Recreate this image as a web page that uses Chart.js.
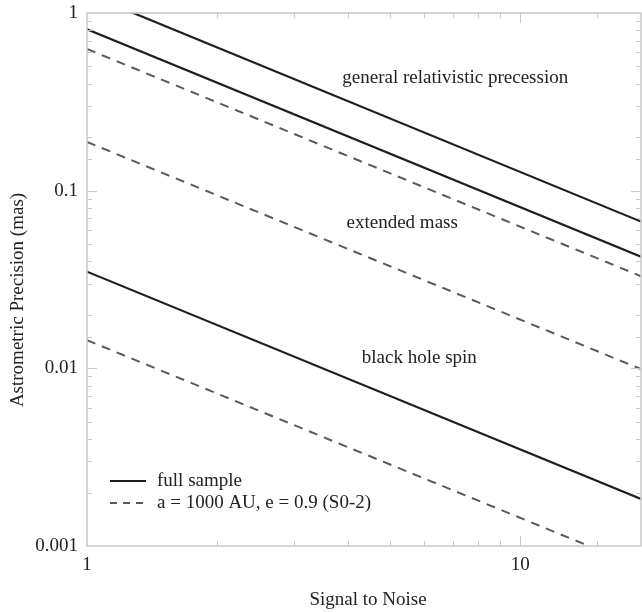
<!DOCTYPE html>
<html>
<head>
<meta charset="utf-8">
<script src="https://cdn.jsdelivr.net/npm/chart.js@4/dist/chart.umd.min.js"></script>
<style>
  html, body { margin:0; padding:0; background:#fff; }
  #wrap { width:642px; height:612px; }
</style>
</head>
<body>
<div id="wrap"><canvas id="c" width="642" height="612"></canvas></div>
<script>
// signal to noise at the two ends of each line (straight in log-log)
const snr = [1, 19];

const grFull   = [1.28, 0.067];
const emFull   = [0.81, 0.0425];
const grS02    = [0.627, 0.033];
const emS02    = [0.188, 0.0099];
const bhFull   = [0.035, 0.00184];
const bhS02    = [0.0144, 0.000758];

const noteTexts = ['general relativistic precession', 'extended mass', 'black hole spin'];
const noteX = [7.08, 5.34, 5.85];
const noteY = [0.43, 0.0658, 0.01145];

const legendTexts = ['full sample', 'a = 1000 AU, e = 0.9 (S0-2)'];

const SERIF = "'Liberation Serif', 'DejaVu Serif', serif";
const INK = '#222';
const FRAME = '#c8c8c8';

function pts(ys){ return snr.map((x,i) => ({x, y: ys[i]})); }

function lineSet(label, ys, dashed){
  return {
    label,
    data: pts(ys),
    borderColor: dashed ? '#5a5a5a' : '#1e1e1e',
    borderWidth: dashed ? 2 : 2.2,
    borderDash: dashed ? [9, 7] : [],
    pointRadius: 0,
    fill: false,
    tension: 0,
    clip: 0,
  };
}

function isDecade(v){
  const l = Math.log10(v);
  return Math.abs(l - Math.round(l)) < 1e-9;
}

const decor = {
  id: 'decor',
  afterDraw(chart){
    const {ctx, chartArea: a, scales} = chart;
    const xs = scales.x, ys = scales.y;
    ctx.save();
    // frame
    ctx.strokeStyle = FRAME;
    ctx.lineWidth = 1.5;
    ctx.strokeRect(a.left, a.top, a.right - a.left, a.bottom - a.top);
    // inward ticks on all four sides
    ctx.lineWidth = 1;
    ctx.beginPath();
    xs.ticks.forEach(t => {
      if (t.value <= xs.min || t.value >= xs.max) return;
      const px = Math.round(xs.getPixelForValue(t.value)) + 0.5;
      const len = isDecade(t.value) ? 10 : 5;
      ctx.moveTo(px, a.bottom); ctx.lineTo(px, a.bottom - len);
      ctx.moveTo(px, a.top); ctx.lineTo(px, a.top + len);
    });
    ys.ticks.forEach(t => {
      if (t.value <= ys.min || t.value >= ys.max) return;
      const py = Math.round(ys.getPixelForValue(t.value)) + 0.5;
      const len = isDecade(t.value) ? 10 : 5;
      ctx.moveTo(a.left, py); ctx.lineTo(a.left + len, py);
      ctx.moveTo(a.right, py); ctx.lineTo(a.right - len, py);
    });
    ctx.stroke();

    // notes on the lines
    ctx.fillStyle = INK;
    ctx.font = '19px ' + SERIF;
    ctx.textAlign = 'center';
    ctx.textBaseline = 'middle';
    noteTexts.forEach((t, i) => {
      ctx.fillText(t, xs.getPixelForValue(noteX[i]), ys.getPixelForValue(noteY[i]));
    });

    // legend
    const ds = chart.data.datasets;
    [ds[0], ds[1]].forEach((d, i) => {
      const y = 481 + i * 22;
      ctx.strokeStyle = d.borderColor;
      ctx.lineWidth = 2;
      ctx.setLineDash(i ? [7, 6] : []);
      ctx.beginPath();
      ctx.moveTo(110, y); ctx.lineTo(146, y);
      ctx.stroke();
      ctx.setLineDash([]);
      ctx.textAlign = 'left';
      ctx.fillText(legendTexts[i], 157, y);
    });

    // axis titles
    ctx.textAlign = 'center';
    ctx.fillText('Signal to Noise', 368, 600);
    ctx.translate(18, 300);
    ctx.rotate(-Math.PI / 2);
    ctx.fillText('Astrometric Precision (mas)', 0, 0);
    ctx.restore();
  }
};

new Chart(document.getElementById('c'), {
  type: 'line',
  data: {
    datasets: [
      lineSet('full sample', grFull, false),
      lineSet('a = 1000 AU, e = 0.9 (S0-2)', grS02, true),
      lineSet('extended mass, full', emFull, false),
      lineSet('extended mass, S0-2', emS02, true),
      lineSet('black hole spin, full', bhFull, false),
      lineSet('black hole spin, S0-2', bhS02, true),
    ]
  },
  options: {
    responsive: false,
    animation: false,
    devicePixelRatio: 1,
    layout: { padding: { top: 13, right: 1, left: 0, bottom: 0 } },
    plugins: { legend: { display: false }, tooltip: { enabled: false } },
    scales: {
      x: {
        type: 'logarithmic',
        min: 1, max: 19,
        afterFit: s => { s.height = 66; s.paddingLeft = 0; s.paddingRight = 0; },
        grid: { display: false, drawTicks: false },
        border: { display: false },
        ticks: {
          autoSkip: false, maxRotation: 0, padding: 8,
          color: INK, font: { family: SERIF, size: 19 },
          callback: v => isDecade(v) ? String(v) : ''
        }
      },
      y: {
        type: 'logarithmic',
        min: 0.001, max: 1,
        afterFit: s => { s.width = 87; s.paddingTop = 0; s.paddingBottom = 0; },
        grid: { display: false, drawTicks: false },
        border: { display: false },
        ticks: {
          autoSkip: false, padding: 9,
          color: INK, font: { family: SERIF, size: 19 },
          callback: v => isDecade(v) ? String(v) : ''
        }
      }
    }
  },
  plugins: [decor]
});
</script>
</body>
</html>
